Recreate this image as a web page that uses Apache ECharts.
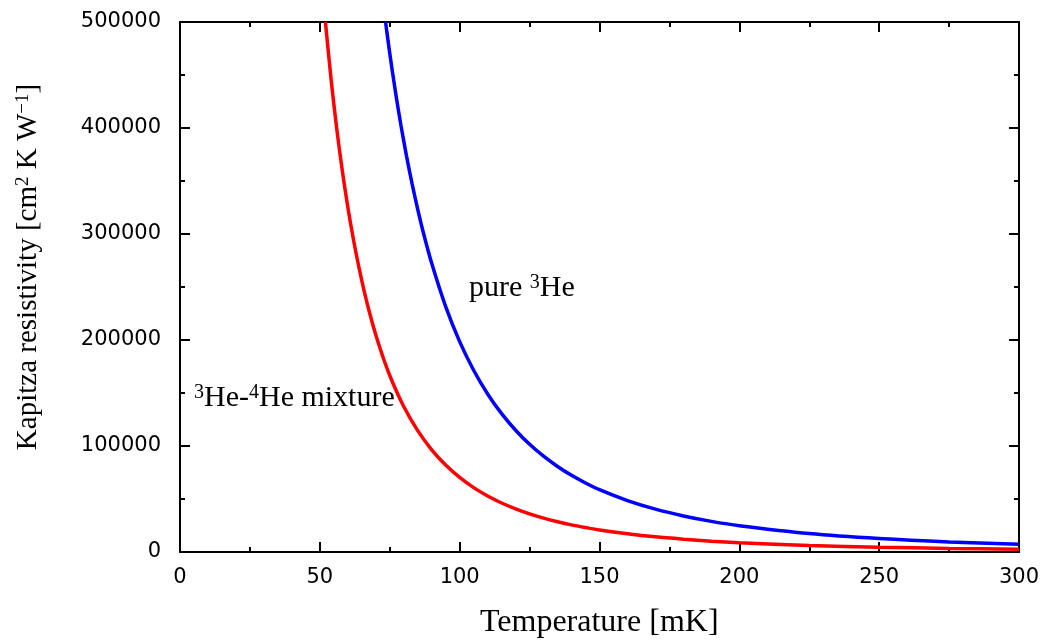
<!DOCTYPE html>
<html>
<head>
<meta charset="utf-8">
<title>Kapitza resistivity</title>
<script src="https://cdn.jsdelivr.net/npm/echarts@6/dist/echarts.min.js"></script>
<style>
    html, body { margin: 0; padding: 0; background: #ffffff; }
    #main { width: 1046px; height: 642px; }
</style>
</head>
<body>
<div id="main"></div>
<script>
// temperature [mK] and resistivity
var mixTemp = [52, 54, 56, 58, 60, 62, 64, 66, 68, 70, 73, 76, 80, 85, 90, 95, 100, 105, 110, 115, 120, 125, 130, 135, 140, 145, 150, 160, 170, 180, 190, 200, 225, 250, 275, 300];
var mixRes  = [500000, 446500, 400300, 360300, 325500, 295000, 268200, 244500, 223600, 205000, 180700, 160100, 137300, 114500, 96400, 82000, 70300, 60700, 52800, 46200, 40700, 36000, 32000, 28600, 25600, 23100, 20800, 17200, 14300, 12100, 10200, 8800, 6200, 4500, 3400, 2600];

var pureTemp = [73.5, 75, 77, 79, 81, 83, 85, 87, 90, 95, 100, 105, 110, 115, 120, 125, 130, 135, 140, 145, 150, 160, 170, 180, 190, 200, 225, 250, 275, 300];
var pureRes  = [500000, 470500, 434800, 402600, 373500, 347200, 323200, 301400, 272300, 231500, 198500, 171500, 149100, 130500, 114900, 101600, 90400, 80700, 72300, 65100, 58800, 48500, 40400, 34000, 28900, 24800, 17400, 12700, 9500, 7350];

var xTicks = [0, 50, 100, 150, 200, 250, 300];
var yTicks = [0, 100000, 200000, 300000, 400000, 500000];

function pairs(xs, ys) {
    var out = [];
    for (var i = 0; i < xs.length; i++) out.push([xs[i], ys[i]]);
    return out;
}

var chart = echarts.init(document.getElementById('main'));

var serif = 'Liberation Serif';
var sans = 'DejaVu Sans';

// common axis look (box with inward ticks on all four sides)
function xAxisOf(pos, showLabel) {
    return {
        type: 'value', position: pos,
        min: xTicks[0], max: xTicks[xTicks.length - 1], interval: 50,
        axisLine: { show: true, onZero: false, lineStyle: { color: '#000', width: 2 } },
        axisTick: { show: true, inside: true, length: 10, lineStyle: { color: '#000', width: 2 } },
        minorTick: { show: true, splitNumber: 2, length: 5, lineStyle: { color: '#000', width: 2 } },
        splitLine: { show: false },
        axisLabel: { show: showLabel, color: '#000', fontFamily: sans, fontSize: 21, margin: 15,
                     formatter: function (v) { return String(v); } }
    };
}
function yAxisOf(pos, showLabel) {
    return {
        type: 'value', position: pos,
        min: yTicks[0], max: yTicks[yTicks.length - 1], interval: 100000,
        axisLine: { show: true, onZero: false, lineStyle: { color: '#000', width: 2 } },
        axisTick: { show: true, inside: true, length: 10, lineStyle: { color: '#000', width: 2 } },
        minorTick: { show: true, splitNumber: 2, length: 5, lineStyle: { color: '#000', width: 2 } },
        splitLine: { show: false },
        axisLabel: { show: showLabel, color: '#000', fontFamily: sans, fontSize: 21, margin: 19,
                     formatter: function (v) { return String(v); } }
    };
}

var supRich = {
    n: { fontFamily: serif, fontSize: 30, color: '#000' },
    s: { fontFamily: serif, fontSize: 20, color: '#000', verticalAlign: 'top', padding: [0, 0, 8, 0] }
};
var titleRich = {
    n: { fontFamily: serif, fontSize: 29, color: '#000' },
    s: { fontFamily: serif, fontSize: 19, color: '#000', verticalAlign: 'top', padding: [0, 0, 8, 0] }
};

var option = {
    animation: false,
    backgroundColor: '#ffffff',
    grid: { left: 180, right: 27, top: 22, bottom: 90, containLabel: false },
    xAxis: [xAxisOf('bottom', true), xAxisOf('top', false)],
    yAxis: [yAxisOf('left', true), yAxisOf('right', false)],
    series: [
        {
            name: 'mixture', type: 'line', xAxisIndex: 0, yAxisIndex: 0,
            data: pairs(mixTemp, mixRes), smooth: 0.3, showSymbol: false, clip: true,
            lineStyle: { color: '#ff0000', width: 3.5 }
        },
        {
            name: 'pure', type: 'line', xAxisIndex: 0, yAxisIndex: 0,
            data: pairs(pureTemp, pureRes), smooth: 0.3, showSymbol: false, clip: true,
            lineStyle: { color: '#0000ff', width: 3.5 }
        }
    ],
    graphic: [
        {
            type: 'text', left: 480, top: 607,
            style: { text: 'Temperature [mK]', fontFamily: serif, fontSize: 32, fill: '#000' }
        },
        {
            type: 'text', x: 28, y: 267, rotation: Math.PI / 2,
            style: {
                text: '{n|Kapitza resistivity [cm}{s|2}{n| K W}{s|\u22121}{n|]}',
                rich: titleRich, align: 'center', verticalAlign: 'middle'
            }
        },
        {
            type: 'text', left: 469, top: 273,
            style: { text: '{n|pure }{s|3}{n|He}', rich: supRich }
        },
        {
            type: 'text', left: 194, top: 383,
            style: { text: '{s|3}{n|He-}{s|4}{n|He mixture}', rich: supRich }
        }
    ]
};

chart.setOption(option);
</script>
</body>
</html>
